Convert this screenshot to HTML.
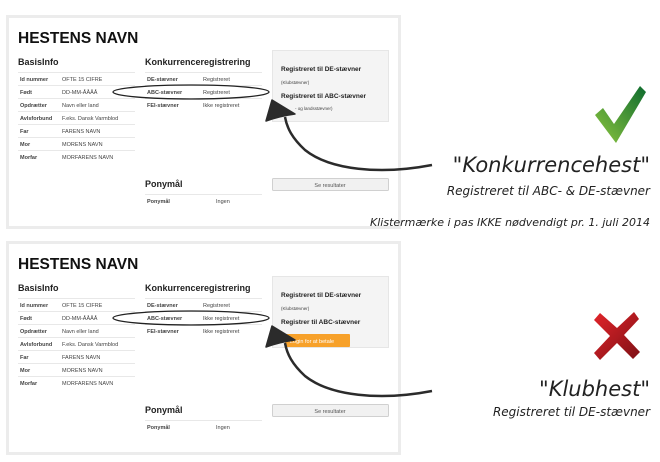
<!DOCTYPE html>
<html><head><meta charset="utf-8"><style>
html,body{margin:0;padding:0;background:#fff;}
svg{display:block;}
.t{font-family:"Liberation Sans",sans-serif;}
.hand{font-family:"DejaVu Sans",sans-serif;font-style:italic;}
</style></head><body>
<svg width="660" height="462" viewBox="0 0 660 462" xmlns="http://www.w3.org/2000/svg">
<defs>
<linearGradient id="g" x1="0" y1="1" x2="1" y2="0"><stop offset="0" stop-color="#8cc63f"/><stop offset="1" stop-color="#0e6b2e"/></linearGradient>
<linearGradient id="r" x1="0" y1="0" x2="1" y2="1"><stop offset="0" stop-color="#e2242a"/><stop offset="1" stop-color="#7d1015"/></linearGradient>
<g id="panel">
<rect x="7.5" y="16.5" width="392" height="211" fill="#fff" stroke="#ececec" stroke-width="3"/>
<text class="t" x="18" y="43" font-size="15.5" font-weight="bold" fill="#111">HESTENS NAVN</text>
<text class="t" x="18" y="65" font-size="9" font-weight="bold" fill="#222">BasisInfo</text>
<text class="t" x="145" y="65" font-size="9" font-weight="bold" fill="#222">Konkurrenceregistrering</text>
<g stroke="#e8e8e8" stroke-width="1">
<line x1="18" y1="72.5" x2="135" y2="72.5"/><line x1="18" y1="85.5" x2="135" y2="85.5"/><line x1="18" y1="98.5" x2="135" y2="98.5"/><line x1="18" y1="111.5" x2="135" y2="111.5"/><line x1="18" y1="124.5" x2="135" y2="124.5"/><line x1="18" y1="137.5" x2="135" y2="137.5"/><line x1="18" y1="150.5" x2="135" y2="150.5"/>
<line x1="145" y1="72.5" x2="262" y2="72.5"/><line x1="145" y1="85.5" x2="262" y2="85.5"/><line x1="145" y1="98.5" x2="262" y2="98.5"/>
<line x1="145" y1="194.5" x2="262" y2="194.5"/>
</g>
<g class="t" font-size="5.5" fill="#444">
<text x="20" y="81" font-weight="bold">Id nummer</text><text x="62" y="81">OFTE 15 CIFRE</text>
<text x="20" y="94" font-weight="bold">Født</text><text x="62" y="94">DD-MM-ÅÅÅÅ</text>
<text x="20" y="107" font-weight="bold">Opdrætter</text><text x="62" y="107">Navn eller land</text>
<text x="20" y="120" font-weight="bold">Avlsforbund</text><text x="62" y="120">F.eks. Dansk Varmblod</text>
<text x="20" y="133" font-weight="bold">Far</text><text x="62" y="133">FARENS NAVN</text>
<text x="20" y="146" font-weight="bold">Mor</text><text x="62" y="146">MORENS NAVN</text>
<text x="20" y="159" font-weight="bold">Morfar</text><text x="62" y="159">MORFARENS NAVN</text>
<text x="147" y="81" font-weight="bold">DE-stævner</text><text x="203" y="81">Registreret</text>
<text x="147" y="94" font-weight="bold">ABC-stævner</text>
<text x="147" y="107" font-weight="bold">FEI-stævner</text><text x="203" y="107">Ikke registreret</text>
<text x="147" y="203" font-weight="bold">Ponymål</text><text x="216" y="203">Ingen</text>
</g>
<text class="t" x="145" y="187" font-size="9" font-weight="bold" fill="#222">Ponymål</text>
<rect x="272.5" y="50.5" width="116" height="71" fill="#f4f4f4" stroke="#e6e6e6"/>
<rect x="272.5" y="178.5" width="116" height="12" rx="1" fill="#f1f1f1" stroke="#d0d0d0"/>
<text class="t" x="330" y="187" font-size="5.5" fill="#555" text-anchor="middle">Se resultater</text>
<text class="t" x="281" y="71" font-size="6.5" font-weight="bold" fill="#222">Registreret til DE-stævner</text>
<text class="t" x="281" y="84" font-size="4.5" fill="#444">(Klubstævner)</text>
</g>
<g id="arrow" fill="none" stroke="#2b2b2b">
<path d="M432 165 C 380 175, 330 170, 305 150 C 292 138, 287 128, 285 117" stroke-width="2.5"/>
<path d="M272 100 L 266 121 Q 280 116 295 114 Z" fill="#2b2b2b" stroke-width="1.5" stroke-linejoin="round"/>
</g>
</defs>
<use href="#panel"/>
<use href="#panel" y="226"/>
<g class="t" font-size="5.5" fill="#444"><text x="203" y="94">Registreret</text><text x="203" y="320">Ikke registreret</text></g>
<text class="t" x="281" y="98" font-size="6.5" font-weight="bold" fill="#222">Registreret til ABC-stævner</text>
<text class="t" x="295" y="110" font-size="4.5" fill="#444">- og landsstævner)</text>
<text class="t" x="281" y="324" font-size="6.5" font-weight="bold" fill="#222">Registrer til ABC-stævner</text>
<rect x="285" y="334" width="65" height="13" rx="1" fill="#f7a12a"/>
<text class="t" x="290" y="343" font-size="5.5" fill="#fff">Login for at betale</text>
<ellipse cx="191" cy="92" rx="78" ry="7" fill="none" stroke="#222" stroke-width="1.3"/>
<ellipse cx="191" cy="318" rx="78" ry="7" fill="none" stroke="#222" stroke-width="1.3"/>
<use href="#arrow"/>
<use href="#arrow" y="226"/>
<path d="M595 115 L603 108 L614 124 L640 86 L646 92 L616 143 Z" fill="url(#g)"/>
<path d="M594 320 L600 313 L617 328 L634 312 L639 319 L624 335 L640 352 L633 359 L617 343 L600 360 L594 353 L610 336 Z" fill="url(#r)"/>
<g class="hand" fill="#222">
<text x="650" y="172" font-size="21" text-anchor="end">"Konkurrencehest"</text>
<text x="650" y="195" font-size="12" text-anchor="end">Registreret til ABC- &amp; DE-stævner</text>
<text x="650" y="226" font-size="11" text-anchor="end">Klistermærke i pas IKKE nødvendigt pr. 1. juli 2014</text>
<text x="650" y="396" font-size="21" text-anchor="end">"Klubhest"</text>
<text x="650" y="416" font-size="12" text-anchor="end">Registreret til DE-stævner</text>
</g>
</svg>
</body></html>
